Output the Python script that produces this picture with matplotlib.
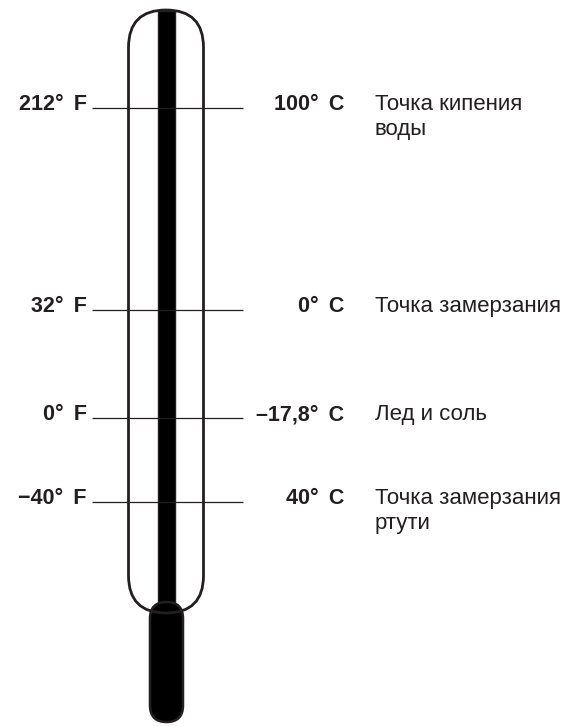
import matplotlib
matplotlib.use("Agg")
import matplotlib.pyplot as plt
from matplotlib.patches import FancyBboxPatch, Rectangle

# --- data ---
fahrenheit = ["212°\u2009 F", "32°\u2009 F", "0°\u2009 F", "\u221240°\u2009 F"]
celsius = ["100°\u2009 C", "0°\u2009 C", "\u201317,8°\u2009 C", "40°\u2009 C"]
descriptions = [["Точка кипения", "воды"], ["Точка замерзания"], ["Лед и соль"],
                ["Точка замерзания", "ртути"]]
row_y = [108, 310, 418, 502]   # schematic positions of the marks on the scale (pixels)

INK = "#231f20"
W, H = 570, 727

fig = plt.figure(figsize=(W / 100, H / 100), dpi=100)
ax = fig.add_axes([0, 0, 1, 1])
ax.set_xlim(0, W)
ax.set_ylim(H, 0)
ax.axis("off")

# inner mercury column
ax.add_patch(Rectangle((158, 11), 17, 600, facecolor="black", edgecolor=INK, lw=1.0, zorder=2))

# bulb (stadium)
ax.add_patch(FancyBboxPatch((150, 602), 33, 120,
                            boxstyle="round,pad=0,rounding_size=16.5",
                            facecolor="black", edgecolor=INK, lw=1.8, zorder=3))

# glass tube outline
ax.add_patch(FancyBboxPatch((128.5, 10), 75, 603,
                            boxstyle="round,pad=0,rounding_size=37.5",
                            facecolor="none", edgecolor=INK, lw=2.0, zorder=4))

fams = ["Liberation Sans", "DejaVu Sans"]
fs = 15.5
for f, c, d, y in zip(fahrenheit, celsius, descriptions, row_y):
    ax.plot([92, 243], [y, y], color=INK, lw=0.9, zorder=5, solid_capstyle="butt")
    ax.text(87, y + 2, f, ha="right", va="baseline", fontsize=fs, fontweight="bold",
            color=INK, family=fams)
    ax.text(344, y + 2, c, ha="right", va="baseline", fontsize=fs, fontweight="bold",
            color=INK, family=fams)
    for i, line in enumerate(d):
        ax.text(375, y + 2 + i * 25, line, ha="left", va="baseline", fontsize=16,
                color=INK, family=fams)

fig.savefig("out.png", dpi=100)
